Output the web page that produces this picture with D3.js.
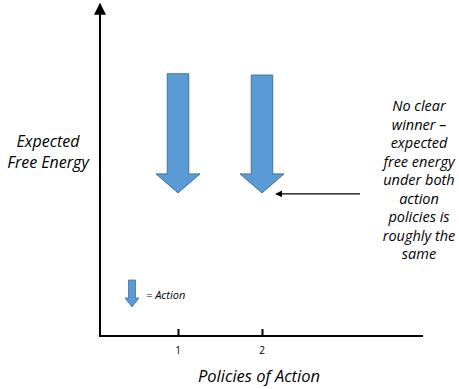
<!DOCTYPE html>
<html>
<head>
<meta charset="utf-8">
<script src="https://cdn.jsdelivr.net/npm/d3@7"></script>
<style>
  body { margin: 0; background: #fff; }
  text { font-family: "Open Sans", sans-serif; }
</style>
</head>
<body>
<svg id="chart" width="459" height="389"></svg>
<script>
// policies on the x axis
const policies = ['1', '2'];
// expected free energy before and after acting (arbitrary units)
const startEnergy = [79, 78.6];
const endEnergy = [43.1, 43.1];
const noteLines = ['No clear', 'winner \u2013', 'expected', 'free energy', 'under both', 'action', 'policies is', 'roughly the', 'same'];
const yLabel = ['Expected', 'Free Energy'];

const svg = d3.select('#chart');
const x = d3.scalePoint().domain(policies).range([178, 262]);
const y = d3.scaleLinear().domain([0, 100]).range([336, 4]);

// arrow marker for axes
const defs = svg.append('defs');
defs.append('marker')
  .attr('id', 'tip').attr('viewBox', '0 0 10 10')
  .attr('refX', 9).attr('refY', 5)
  .attr('markerWidth', 6).attr('markerHeight', 6)
  .attr('orient', 'auto-start-reverse')
  .append('path').attr('d', 'M0,0 L10,5 L0,10 z').attr('fill', '#000');

// y axis
svg.append('line')
  .attr('x1', 100).attr('x2', 100)
  .attr('y1', y(0)).attr('y2', y(100))
  .attr('stroke', '#000').attr('stroke-width', 2)
  .attr('marker-end', 'url(#tip)');

// x axis
const xAxis = d3.axisTop(x).tickValues(policies).tickSize(7).tickFormat('');
const gx = svg.append('g').attr('transform', `translate(0,${y(0)})`).call(xAxis);
gx.select('.domain').remove();
gx.selectAll('.tick line').attr('stroke', '#000').attr('stroke-width', 2);
svg.append('line')
  .attr('x1', 99).attr('x2', 423)
  .attr('y1', y(0)).attr('y2', y(0))
  .attr('stroke', '#000').attr('stroke-width', 2);

svg.selectAll('.ticklabel').data(policies).enter().append('text')
  .attr('x', d => x(d)).attr('y', 354)
  .attr('text-anchor', 'middle').attr('font-size', 10)
  .text(d => d);

// block arrows
function blockArrow(cx, top, tip, shaftW, headW, headH) {
  const s = shaftW / 2, h = headW / 2, hb = tip - headH;
  return `M${cx - s},${top} L${cx + s},${top} L${cx + s},${hb} L${cx + h},${hb} L${cx},${tip} L${cx - h},${hb} L${cx - s},${hb} Z`;
}
svg.selectAll('.action').data(policies).enter().append('path')
  .attr('d', (d, i) => blockArrow(x(d), y(startEnergy[i]), y(endEnergy[i]), 21.5, 44, 19))
  .attr('fill', '#5b9bd5').attr('stroke', '#41719c').attr('stroke-width', 1);

// pointer
svg.append('line')
  .attr('x1', 360).attr('x2', 276)
  .attr('y1', y(endEnergy[1]) + 1).attr('y2', y(endEnergy[1]) + 1)
  .attr('stroke', '#000').attr('stroke-width', 1.2)
  .attr('marker-end', 'url(#tip)');

// note text
svg.append('text')
  .attr('text-anchor', 'middle').attr('font-size', 14.5).attr('font-style', 'italic')
  .selectAll('tspan').data(noteLines).enter().append('tspan')
  .attr('x', 419).attr('y', (d, i) => 111 + i * 18.5)
  .text(d => d);

// y label
svg.selectAll('.ylabel').data(yLabel).enter().append('text')
  .attr('x', 48).attr('y', (d, i) => 147 + i * 21)
  .attr('text-anchor', 'middle').attr('font-size', 16).attr('font-style', 'italic')
  .text(d => d);

// x label
svg.append('text')
  .attr('x', 259).attr('y', 382)
  .attr('text-anchor', 'middle').attr('font-size', 16.5).attr('font-style', 'italic')
  .text('Policies of Action');

// legend
svg.append('path')
  .attr('d', blockArrow(132, 280, 307, 7, 14, 9))
  .attr('fill', '#5b9bd5').attr('stroke', '#41719c').attr('stroke-width', 0.8);
svg.append('text')
  .attr('x', 146).attr('y', 299)
  .attr('font-size', 11).attr('font-style', 'italic')
  .text('=  Action');
</script>
</body>
</html>
